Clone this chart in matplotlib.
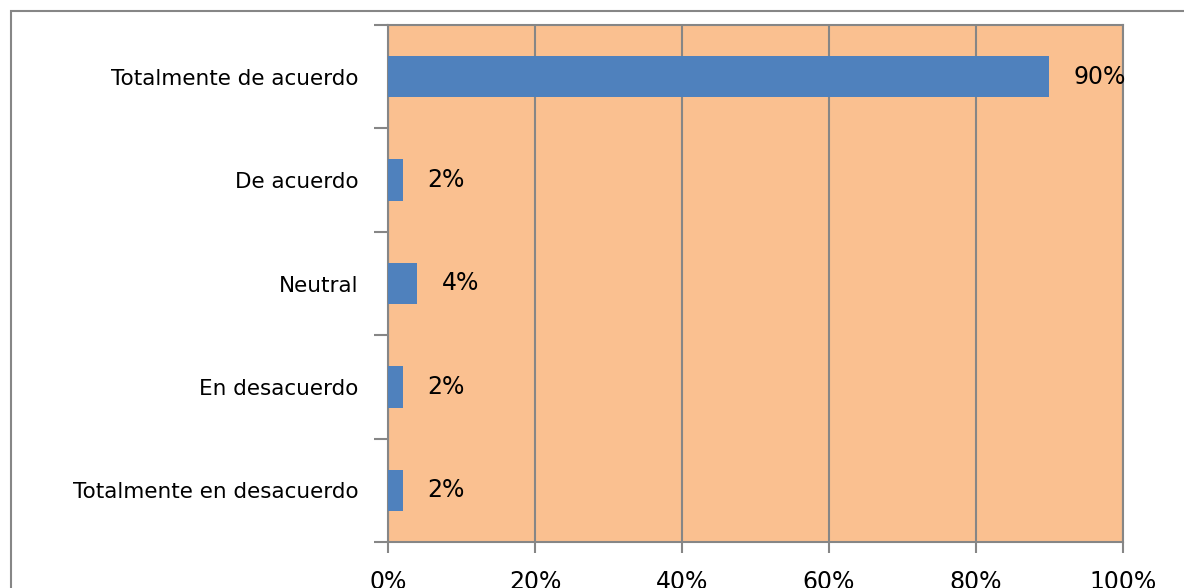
import matplotlib
matplotlib.use('Agg')
from matplotlib import pyplot as plt
from matplotlib.patches import Rectangle

categories = [
    'Totalmente en desacuerdo',
    'En desacuerdo',
    'Neutral',
    'De acuerdo',
    'Totalmente de acuerdo',
]
percentages = [2, 2, 4, 2, 90]
x_ticks = [0, 20, 40, 60, 80, 100]

bar_color = '#4F81BD'
plot_bg = '#FAC090'
line_gray = '#868686'

plt.rcParams['font.family'] = ['DejaVu Sans']

fig = plt.figure(figsize=(11.84, 5.88), dpi=100)
ax = fig.add_axes([388 / 1184, 1 - 542 / 588, (1123 - 388) / 1184, (542 - 25) / 588])

# outer chart frame, open at the right and bottom edges
fig.patches.append(Rectangle((11 / 1184, -0.1), 1.2, 1.1 - 11 / 588,
                             transform=fig.transFigure, fill=False,
                             edgecolor=line_gray, linewidth=1.5))

positions = list(range(len(categories)))
ax.barh(positions, percentages, height=0.4, color=bar_color, zorder=3)

for y, v in zip(positions, percentages):
    ax.text(v + 3.3, y, f'{v}%', va='center', ha='left', fontsize=17,
            color='black', zorder=4)

ax.set_facecolor(plot_bg)
ax.set_xlim(0, 100)
ax.set_ylim(-0.5, len(categories) - 0.5)

ax.set_xticks(x_ticks)
ax.set_xticklabels([f'{t}%' for t in x_ticks], fontsize=17)
ax.tick_params(axis='x', direction='out', length=8, width=1.5, color=line_gray, pad=12)

# category labels centred on bars; tick marks at the category boundaries
ax.set_yticks([p - 0.5 for p in positions] + [len(categories) - 0.5])
ax.set_yticklabels([])
ax.tick_params(axis='y', which='major', direction='out', length=10, width=1.5, color=line_gray)
ax.set_yticks(positions, minor=True)
ax.set_yticklabels(categories, minor=True, fontsize=15.5)
ax.tick_params(axis='y', which='minor', length=0, pad=21)

ax.grid(True, axis='x', color=line_gray, linewidth=1.5, zorder=1)
ax.set_axisbelow(True)
for s in ax.spines.values():
    s.set_color(line_gray)
    s.set_linewidth(1.5)

fig.savefig('out.png', dpi=100)
